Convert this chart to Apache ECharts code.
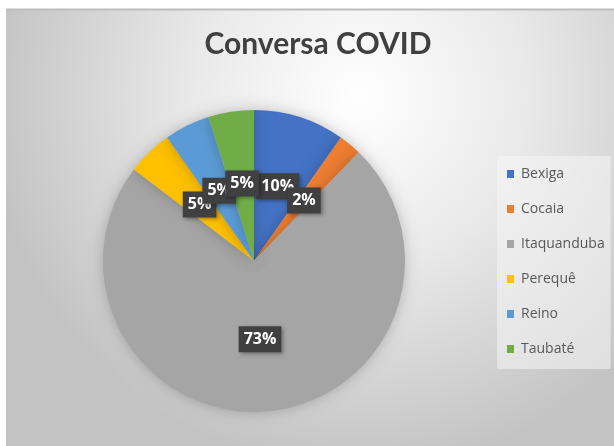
<!DOCTYPE html>
<html>
<head>
<meta charset="utf-8">
<script src="https://cdn.jsdelivr.net/npm/echarts@6/dist/echarts.min.js"></script>
<style>
  html, body { margin: 0; padding: 0; background: #fff; overflow: hidden; }
  #main { width: 614px; height: 446px; }
</style>
</head>
<body>
<div id="main"></div>
<script>
var titleText = 'Conversa COVID';
var categories = ['Bexiga', 'Cocaia', 'Itaquanduba', 'Perequê', 'Reino', 'Taubaté'];
var values = [4, 1, 30, 2, 2, 2];
var colors = ['#4472C4', '#ED7D31', '#A5A5A5', '#FFC000', '#5B9BD5', '#70AD47'];

var myChart = echarts.init(document.getElementById('main'));

var pieData = [];
categories.forEach(function (name, i) {
    pieData.push({ name: name, value: values[i] });
});

var option = {
    color: colors,
    animation: false,
    graphic: [
        {
            type: 'rect',
            shape: { x: 6, y: 9, width: 610, height: 440 },
            style: {
                fill: {
                    type: 'radial', x: 0.58, y: 0.2, r: 0.85,
                    colorStops: [
                        { offset: 0, color: '#ffffff' },
                        { offset: 0.45, color: '#e9e9e9' },
                        { offset: 1, color: '#c3c3c3' }
                    ]
                }
            },
            silent: true,
            z: -10
        },
        {
            type: 'rect',
            shape: { x: 6, y: 8.5, width: 610, height: 2 },
            style: { fill: '#bdbdbd' },
            silent: true,
            z: -9
        }
    ],
    title: {
        text: titleText,
        left: 313,
        textAlign: 'center',
        top: 24,
        textStyle: {
            fontFamily: 'Lato',
            fontWeight: 'bold',
            fontSize: 30,
            color: '#404040'
        }
    },
    legend: {
        orient: 'vertical',
        left: 497,
        top: 156,
        padding: [10, 6, 12, 10],
        backgroundColor: 'rgba(245,245,245,0.55)',
        itemWidth: 7,
        itemHeight: 8,
        itemGap: 19,
        icon: 'rect',
        data: categories,
        textStyle: {
            fontFamily: 'Open Sans',
            fontSize: 14,
            lineHeight: 16,
            color: '#595959',
            padding: [0, 0, 0, 2]
        }
    },
    series: [{
        type: 'pie',
        center: [254, 261],
        radius: 151,
        startAngle: 90,
        clockwise: true,
        avoidLabelOverlap: false,
        data: pieData,
        itemStyle: {
            borderWidth: 0,
            shadowBlur: 14,
            shadowColor: 'rgba(0,0,0,0.22)'
        },
        label: {
            position: 'inside',
            formatter: function (p) { return Math.round(p.percent) + '%'; },
            color: '#ffffff',
            fontFamily: 'Open Sans',
            fontWeight: 'bold',
            fontSize: 16,
            lineHeight: 18,
            backgroundColor: '#404040',
            padding: [4, 5],
            shadowBlur: 4,
            shadowOffsetX: 2,
            shadowOffsetY: 2,
            shadowColor: 'rgba(0,0,0,0.35)'
        },
        labelLayout: { hideOverlap: false },
        labelLine: { show: false },
        emphasis: { disabled: true }
    }]
};

myChart.setOption(option);
</script>
</body>
</html>
